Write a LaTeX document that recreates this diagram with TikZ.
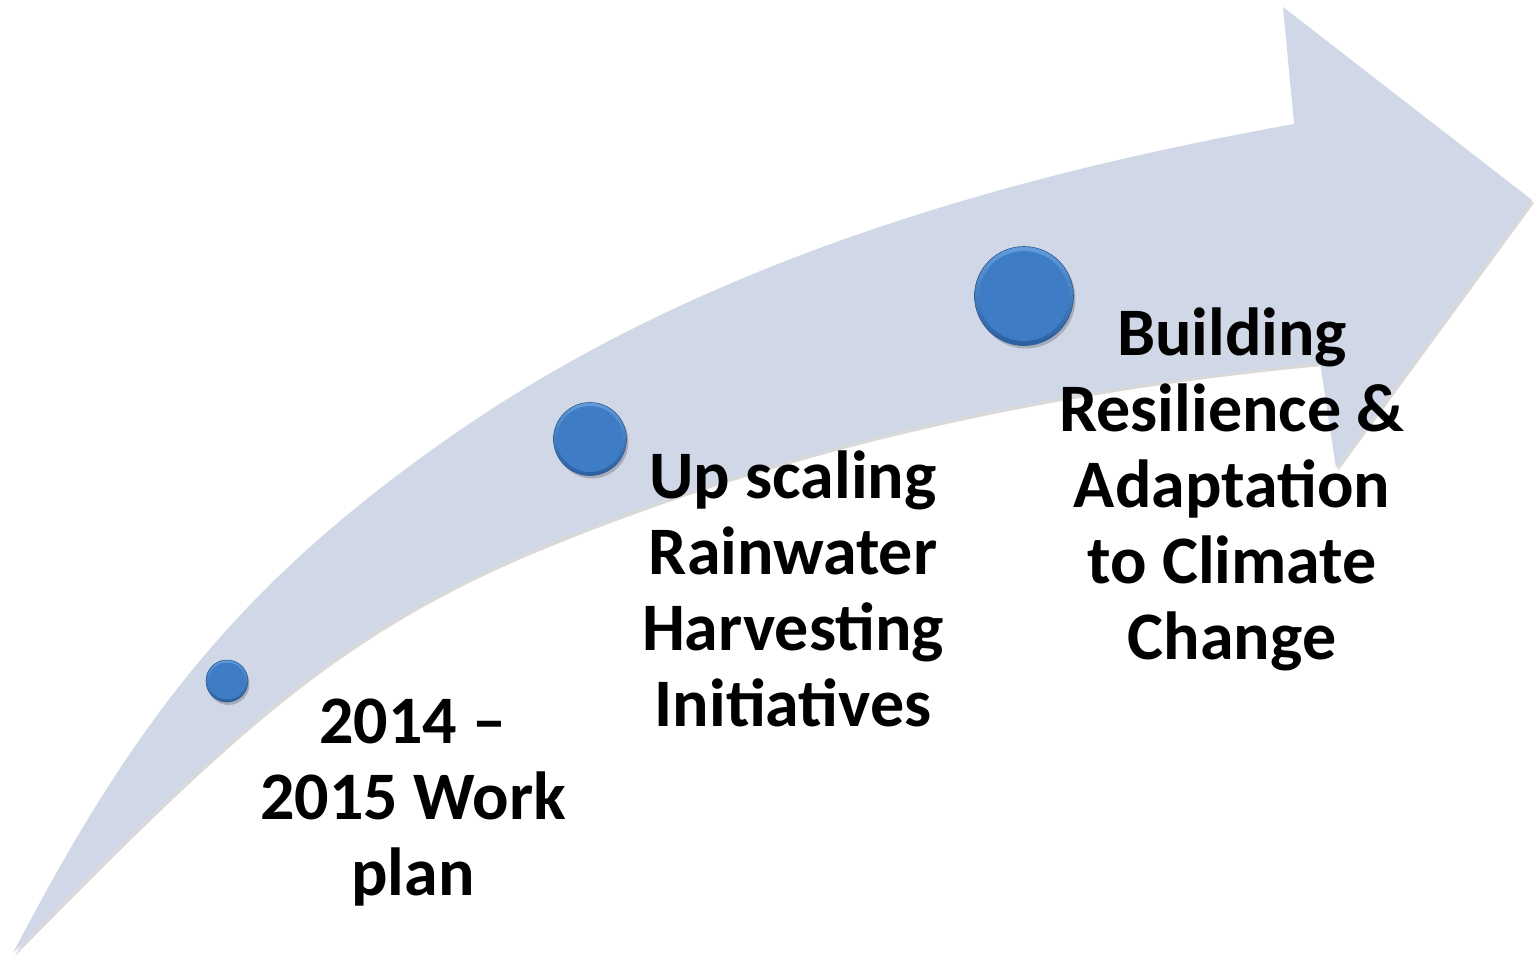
\documentclass[tikz,border=0pt]{standalone}
\usepackage{fontspec}
\setmainfont{Carlito}
\definecolor{arrowblue}{RGB}{208,216,231}
\definecolor{balltop}{RGB}{98,156,220}
\definecolor{ballbottom}{RGB}{42,94,160}
\definecolor{ballmid}{RGB}{62,125,197}
\definecolor{balledge}{RGB}{44,88,146}
\begin{document}
\begin{tikzpicture}[x=1pt,y=-1pt,
  arrowbody/.style={fill=arrowblue},
  arrowshade/.style={fill=black, opacity=0.15},
  ballrim/.style={circle, inner sep=0pt, draw=balledge, line width=0.6pt, top color=balltop, bottom color=ballbottom},
  ballcore/.style={circle, inner sep=0pt, fill=ballmid},
  ballshade/.style={circle, inner sep=0pt, fill=black, opacity=0.2},
  steptext/.style={font=\fontsize{68}{76}\selectfont\bfseries, align=center, anchor=north, inner sep=0pt, text=black}]
\useasboundingbox (0,0) rectangle (1534,957);
% arrow shadow
\begin{scope}[shift={(2,3)}]
\fill[arrowshade] (13,953) .. controls (133,723) and (237,586) .. (450,437)
  .. controls (696,265) and (999,177) .. (1294,124)
  -- (1283,7) -- (1532,200) -- (1336,468) -- (1320,363)
  .. controls (1051,388) and (782,446) .. (533,550)
  .. controls (330,635) and (223,740) .. (13,953) -- cycle;
\end{scope}
% arrow body
\fill[arrowbody] (13,953) .. controls (133,723) and (237,586) .. (450,437)
  .. controls (696,265) and (999,177) .. (1294,124)
  -- (1283,7) -- (1532,200) -- (1336,468) -- (1320,363)
  .. controls (1051,388) and (782,446) .. (533,550)
  .. controls (330,635) and (223,740) .. (13,953) -- cycle;
% balls
\node[ballshade, minimum size=42pt] (s1) at (228.5,684) {};
\node[ballshade, minimum size=73pt] (s2) at (592,442) {};
\node[ballshade, minimum size=99pt] (s3) at (1026,299) {};
\node[ballrim, minimum size=42pt] (c1) at (227,681) {};
\node[ballrim, minimum size=73pt] (c2) at (590,439) {};
\node[ballrim, minimum size=99pt] (c3) at (1024,296) {};
\node[ballcore, minimum size=37pt] (k1) at (c1) {};
\node[ballcore, minimum size=66pt] (k2) at (c2) {};
\node[ballcore, minimum size=90pt] (k3) at (c3) {};
% texts
\node[steptext] (t1) at (413,690) {\strut 2014 –\\2015 Work\\plan};
\node[steptext] (t2) at (793,445) {\strut Up scaling\\Rainwater\\Harvesting\\Initiatives};
\node[steptext] (t3) at (1232,302) {\strut Building\\Resilience \&\\Adaptation\\to Climate\\Change};
\end{tikzpicture}
\end{document}
